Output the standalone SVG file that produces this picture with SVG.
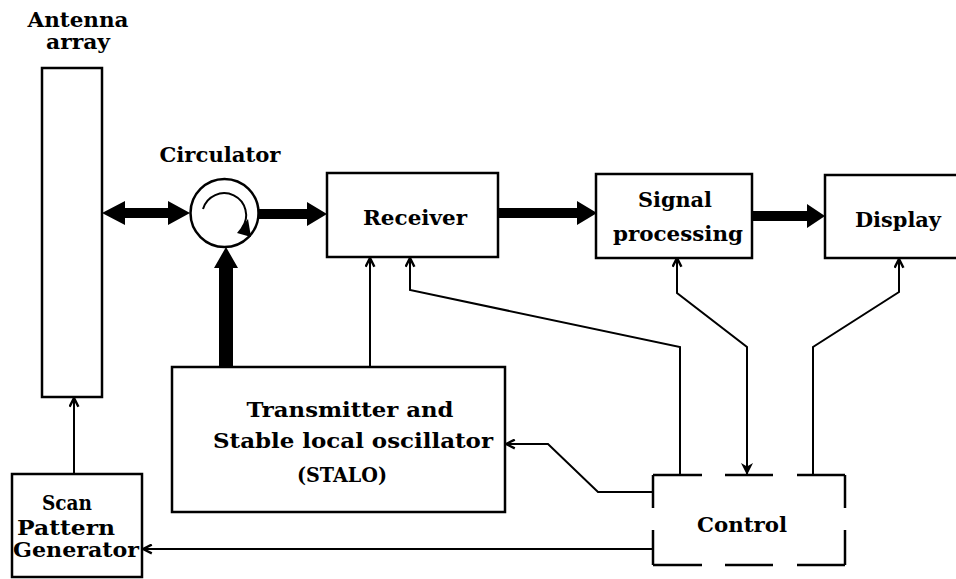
<svg xmlns="http://www.w3.org/2000/svg" width="956" height="579" viewBox="0 0 956 579">
<style>
.box{fill:#fff;stroke:#000;stroke-width:2.5}
.ln{fill:none;stroke:#000;stroke-width:2}
.thick{fill:#000;stroke:none}
text{font-family:"DejaVu Serif","Liberation Serif",serif;font-weight:bold;font-size:20.5px;fill:#000}
</style>
<defs>
<marker id="open" viewBox="0 0 10 10" refX="9" refY="5" markerUnits="userSpaceOnUse" markerWidth="11" markerHeight="11" orient="auto-start-reverse">
<path d="M1,1 L9,5 L1,9" fill="none" stroke="#000" stroke-width="2.2"/>
</marker>
<marker id="solid" viewBox="0 0 10 10" refX="10" refY="5" markerUnits="userSpaceOnUse" markerWidth="12" markerHeight="12" orient="auto">
<path d="M0,0 L10,5 L0,10 L3,5 Z" fill="#000"/>
</marker>
</defs>

<g id="connectors">
<polygon class="thick" points="102,213 125,201 125,208 168,208 168,201 190,213 168,225 168,218 125,218 125,225"/>
<polygon class="thick" points="259,209 307,209 307,202 327,214 307,226 307,219 259,219"/>
<polygon class="thick" points="498,208 577,208 577,201 597,213 577,225 577,218 498,218"/>
<polygon class="thick" points="752,211 807,211 807,204 825,216 807,228 807,221 752,221"/>
<polygon class="thick" points="219,367 219,268 214,268 226,247 238,268 233,268 233,367"/>
<polyline class="ln" points="370,367 370,258" marker-end="url(#open)"/>
<polyline class="ln" points="680,475 680,347 410,290 410,258" marker-end="url(#open)"/>
<polyline class="ln" points="677,258 677,293 747,347 747,475" marker-start="url(#open)" marker-end="url(#solid)"/>
<polyline class="ln" points="813,475 813,347 899,292 899,259" marker-end="url(#open)"/>
<polyline class="ln" points="652,492 598,492 548,444 506,444" marker-end="url(#open)"/>
<polyline class="ln" points="652,549 143,549" marker-end="url(#open)"/>
<polyline class="ln" points="74,473 74,398" marker-end="url(#open)"/>
</g>

<g id="antenna">
<rect class="box" x="42" y="68" width="60" height="329"/>
<text x="78" y="27" text-anchor="middle" textLength="101" lengthAdjust="spacingAndGlyphs">Antenna</text>
<text x="78" y="49" text-anchor="middle" textLength="64" lengthAdjust="spacingAndGlyphs">array</text>
</g>

<g id="circulator">
<circle cx="224.5" cy="213" r="34" fill="#fff" stroke="#000" stroke-width="2.5"/>
<path d="M203,209 A22,22 0 1 1 242,228" fill="none" stroke="#000" stroke-width="2"/>
<polygon points="237,233 248,219 251,237" fill="#000"/>
<text x="220" y="162" text-anchor="middle" textLength="121" lengthAdjust="spacingAndGlyphs">Circulator</text>
</g>

<g id="receiver">
<rect class="box" x="327" y="173" width="171" height="84"/>
<text x="415" y="225" text-anchor="middle" textLength="104" lengthAdjust="spacingAndGlyphs">Receiver</text>
</g>

<g id="signal-processing">
<rect class="box" x="596" y="174" width="156" height="84"/>
<text x="675" y="207" text-anchor="middle" textLength="74" lengthAdjust="spacingAndGlyphs">Signal</text>
<text x="678" y="241" text-anchor="middle" textLength="130" lengthAdjust="spacingAndGlyphs">processing</text>
</g>

<g id="display">
<rect class="box" x="825" y="175" width="140" height="83"/>
<text x="898" y="227" text-anchor="middle" textLength="86" lengthAdjust="spacingAndGlyphs">Display</text>
</g>

<g id="transmitter">
<rect class="box" x="172" y="367" width="333" height="145"/>
<text x="350" y="417" text-anchor="middle" textLength="207" lengthAdjust="spacingAndGlyphs">Transmitter and</text>
<text x="353" y="448" text-anchor="middle" textLength="280" lengthAdjust="spacingAndGlyphs">Stable local oscillator</text>
<text x="342" y="482" text-anchor="middle" textLength="90" lengthAdjust="spacingAndGlyphs">(STALO)</text>
</g>

<g id="scan-pattern-generator">
<rect class="box" x="12" y="474" width="130" height="103"/>
<text x="67" y="510" text-anchor="middle" textLength="50" lengthAdjust="spacingAndGlyphs">Scan</text>
<text x="66" y="535" text-anchor="middle" textLength="98" lengthAdjust="spacingAndGlyphs">Pattern</text>
<text x="76" y="557" text-anchor="middle" textLength="126" lengthAdjust="spacingAndGlyphs">Generator</text>
</g>

<g id="control">
<g stroke="#000" stroke-width="2.5" fill="none">
<line x1="653" y1="475" x2="702" y2="475"/>
<line x1="725" y1="475" x2="773" y2="475"/>
<line x1="797" y1="475" x2="845" y2="475"/>
<line x1="653" y1="565" x2="702" y2="565"/>
<line x1="725" y1="565" x2="773" y2="565"/>
<line x1="797" y1="565" x2="845" y2="565"/>
<line x1="653" y1="475" x2="653" y2="508"/>
<line x1="653" y1="530" x2="653" y2="565"/>
<line x1="845" y1="475" x2="845" y2="508"/>
<line x1="845" y1="530" x2="845" y2="565"/>
</g>
<text x="742" y="532" text-anchor="middle" textLength="90" lengthAdjust="spacingAndGlyphs">Control</text>
</g>
</svg>
